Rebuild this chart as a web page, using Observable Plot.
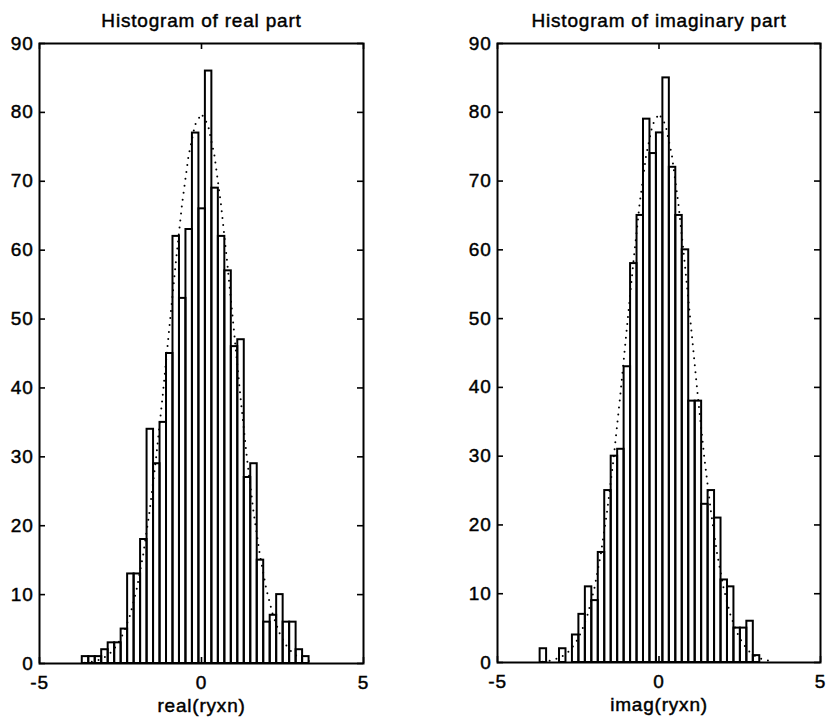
<!DOCTYPE html>
<html><head><meta charset="utf-8">
<script src="https://cdn.jsdelivr.net/npm/d3@7"></script>
<script src="https://cdn.jsdelivr.net/npm/@observablehq/plot@0.6"></script>
<style>
html,body{margin:0;padding:0;background:#fff;}
#wrap{display:flex;width:828px;height:717px;overflow:hidden;}
#wrap svg{flex:none;}
#wrap svg text{stroke:#000;stroke-width:0.45px;}
</style></head><body><div id="wrap"></div>
<script>
// Histogram binning (bin left edge of first bar, bin width)
const binStart = -3.68;
const binWidth = 0.2;

// Counts (each series sums to 1000)
const realCounts = [1,1,1,2,3,3,5,13,13,18,34,29,35,45,62,53,63,77,66,86,69,62,57,46,47,27,29,15,6,7,10,6,6,2,1];
const imagCounts = [2,0,0,2,0,4,7,11,9,16,25,30,31,43,58,65,79,74,77,85,72,65,60,38,38,23,25,21,12,11,5,5,6,1];

// Dotted reference curve
const curveX = [-3.6,-3.4,-3.2,-3.0,-2.8,-2.6,-2.4,-2.2,-2.0,-1.8,-1.6,-1.4,-1.2,-1.0,-0.8,-0.6,-0.4,-0.2,0,0.2,0.4,0.6,0.8,1.0,1.2,1.4,1.6,1.8,2.0,2.2,2.4,2.6,2.8,3.0,3.2,3.4];
const curveY = [0.12,0.25,0.48,0.89,1.58,2.71,4.48,7.09,10.8,15.8,22.2,29.9,38.8,48.4,57.9,66.7,73.7,78.2,79.8,78.2,73.7,66.7,57.9,48.4,38.8,29.9,22.2,15.8,10.8,7.09,4.48,2.71,1.58,0.89,0.48,0.25];

const xTicks = [-5, 0, 5];
const xTickLabels = ["-5", "0", "5"];
const yTicks = [0, 10, 20, 30, 40, 50, 60, 70, 80, 90];
const titles = ["Histogram of real part", "Histogram of imaginary part"];
const xLabels = ["real(ryxn)", "imag(ryxn)"];

function panel(counts, title, xlabel, m) {
  const W = 414, H = 717;
  const pw = W - m.left - m.right, ph = H - m.top - m.bottom;
  const bars = counts.map((c, i) => ({x1: binStart + i * binWidth, x2: binStart + (i + 1) * binWidth, y: c}));
  const curve = curveX.map((x, i) => ({x, y: curveY[i]}));
  return Plot.plot({
    width: W, height: H,
    marginLeft: m.left, marginRight: m.right, marginTop: m.top, marginBottom: m.bottom,
    style: {fontFamily: "'Liberation Sans', Arial, Helvetica, sans-serif", fontSize: "19px", letterSpacing: "0.8px", background: "#fff", color: "#000", overflow: "visible"},
    x: {domain: [-5, 5]},
    y: {domain: [0, 90]},
    marks: [
      Plot.line(curve, {x: "x", y: "y", stroke: "#000", strokeWidth: 2, strokeDasharray: "0,7", strokeLinecap: "round"}),
      Plot.rect(bars, {x1: "x1", x2: "x2", y1: 0, y2: "y", fill: "none", stroke: "#000", strokeWidth: 2}),
      Plot.frame({stroke: "#000", strokeWidth: 2}),
      Plot.tickY(yTicks, {y: d => d, insetRight: pw - 6, stroke: "#000", strokeWidth: 1.6}),
      Plot.tickY(yTicks, {y: d => d, insetLeft: pw - 6, stroke: "#000", strokeWidth: 1.6}),
      Plot.tickX(xTicks, {x: d => d, insetTop: ph - 6, stroke: "#000", strokeWidth: 1.6}),
      Plot.tickX(xTicks, {x: d => d, insetBottom: ph - 6, stroke: "#000", strokeWidth: 1.6}),
      Plot.axisX(xTicks, {tickSize: 0, tickPadding: 12, tickFormat: d => xTickLabels[xTicks.indexOf(d)], label: null}),
      Plot.axisY(yTicks, {tickSize: 0, tickPadding: 6, label: null}),
      Plot.text([title], {frameAnchor: "top", lineAnchor: "middle", dy: -23, fill: "#000"}),
      Plot.text([xlabel], {frameAnchor: "bottom", lineAnchor: "middle", dy: 42, fill: "#000"})
    ]
  });
}

const wrap = document.getElementById("wrap");
wrap.appendChild(panel(realCounts, titles[0], xLabels[0], {left: 39, right: 51, top: 43, bottom: 54}));
wrap.appendChild(panel(imagCounts, titles[1], xLabels[1], {left: 83, right: 8, top: 43, bottom: 55}));
</script>
</body></html>
